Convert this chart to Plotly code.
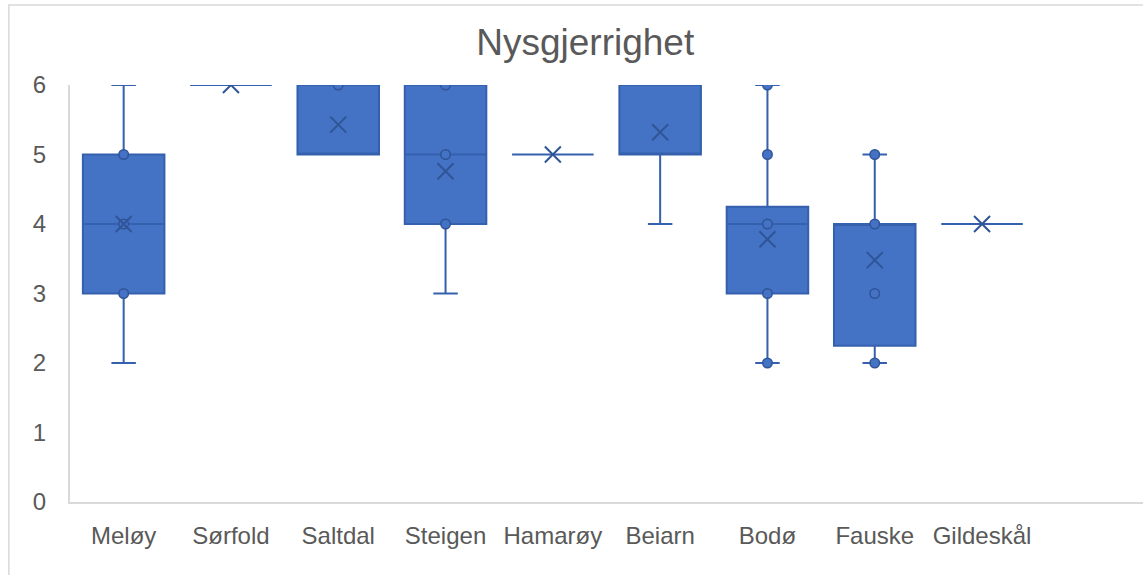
import plotly.graph_objects as go

# Box-plot summary per municipality
categories = ["Meløy", "Sørfold", "Saltdal", "Steigen", "Hamarøy",
              "Beiarn", "Bodø", "Fauske", "Gildeskål"]
q1 = [3, 6, 5, 4, 5, 5, 3, 2.25, 4]
median = [4, 6, 5, 5, 5, 5, 4, 4, 4]
q3 = [5, 6, 6, 6, 5, 6, 4.25, 4, 4]
lower_whisker = [2, 6, 5, 3, 5, 4, 2, 2, 4]
upper_whisker = [6, 6, 6, 6, 5, 6, 6, 5, 4]
means = [4.0, 6.0, 5.43, 4.76, 5.0, 5.32, 3.78, 3.48, 4.0]

# Individual points drawn on top of the boxes
points = {
    "Meløy": [3, 4, 5],
    "Saltdal": [6],
    "Steigen": [4, 5, 6],
    "Bodø": [2, 3, 4, 5, 6],
    "Fauske": [2, 3, 4, 5],
}

y_ticks = [0, 1, 2, 3, 4, 5, 6]

FILL = "#4472C4"
EDGE = "#3560AE"
DARK = "#2F5597"
TEXT = "#595959"
AXIS = "#D9D9D9"

fig = go.Figure()

fig.add_trace(go.Box(
    x=categories,
    q1=q1, median=median, q3=q3,
    lowerfence=lower_whisker, upperfence=upper_whisker,
    fillcolor=FILL,
    line=dict(color=EDGE, width=2),
    whiskerwidth=0.3,
    boxpoints=False,
    hoverinfo="skip",
    showlegend=False,
))

pt_x, pt_y = [], []
for cat, vals in points.items():
    for v in vals:
        pt_x.append(cat)
        pt_y.append(v)

fig.add_trace(go.Scatter(
    x=pt_x, y=pt_y, mode="markers",
    marker=dict(symbol="circle", size=9.5, color=FILL,
                line=dict(color=DARK, width=1.5)),
    showlegend=False, hoverinfo="skip",
))

fig.add_trace(go.Scatter(
    x=categories, y=means, mode="markers",
    marker=dict(symbol="x-thin", size=16,
                line=dict(color=DARK, width=2)),
    showlegend=False, hoverinfo="skip",
))

# Chart-area border
fig.add_shape(type="rect", xref="paper", yref="paper",
              x0=-0.057, x1=1.01, y0=-0.2, y1=1.192,
              line=dict(color=AXIS, width=1.5), fillcolor="rgba(0,0,0,0)",
              layer="below")

fig.update_layout(
    width=1143, height=575,
    margin=dict(l=70, r=0, t=85, b=73),
    paper_bgcolor="white", plot_bgcolor="white",
    boxgap=0.24, boxgroupgap=0,
    font=dict(family="Liberation Sans, Arial, sans-serif", color=TEXT),
    title=dict(text="Nysgjerrighet", x=0.512, xref="container",
               xanchor="center", y=1 - 42 / 575, yanchor="middle",
               font=dict(size=37, color=TEXT)),
    xaxis=dict(type="category", categoryorder="array",
               categoryarray=categories, range=[-0.5, 9.5],
               showline=True, linecolor=AXIS, linewidth=2,
               showgrid=False, ticks="", zeroline=False,
               tickfont=dict(size=24, color=TEXT),
               ticklabelstandoff=11),
    yaxis=dict(range=[0, 6], tickvals=y_ticks,
               showline=True, linecolor=AXIS, linewidth=2,
               showgrid=False, ticks="", zeroline=False,
               tickfont=dict(size=24, color=TEXT),
               ticklabelstandoff=17),
)

fig.write_html("out.html")
